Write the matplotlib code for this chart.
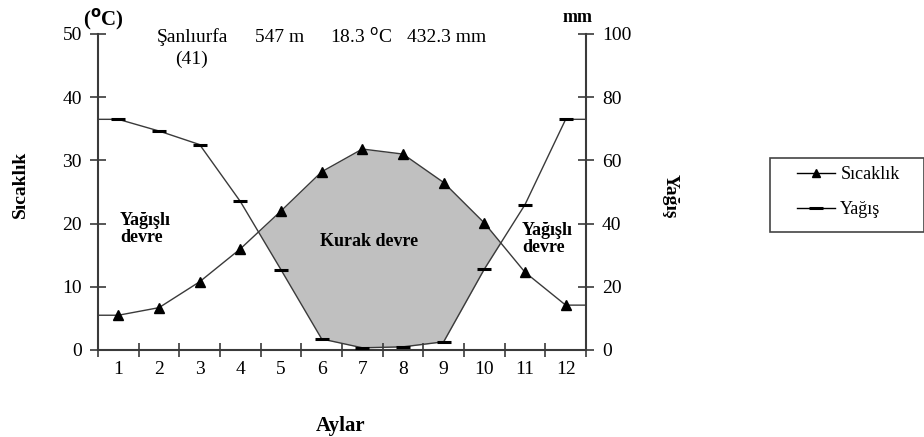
import numpy as np
import matplotlib
matplotlib.use("Agg")
import matplotlib.pyplot as plt
from matplotlib.lines import Line2D
from matplotlib.patches import Rectangle

plt.rcParams["font.family"] = ["Liberation Serif", "DejaVu Serif"]

months = np.arange(1, 13)
month_labels = [str(m) for m in months]
temperature = [5.5, 6.7, 10.8, 16.0, 22.0, 28.2, 31.8, 31.0, 26.5, 20.1, 12.3, 7.1]
precipitation = [73.0, 69.3, 65.0, 47.0, 25.4, 3.5, 0.7, 1.0, 2.6, 25.6, 46.0, 73.0]

W, H = 924, 437
LINE = "#3a3a3a"


def fx(px):
    return px / W


def fy(py):
    return 1 - py / H


fig = plt.figure(figsize=(W / 100, H / 100), dpi=100)
ax = fig.add_axes([fx(98), fy(350), fx(586) - fx(98), fy(34) - fy(350)])
ax2 = ax.twinx()

t = np.array(temperature)
p_half = np.array(precipitation) / 2.0

# dry period: temperature above half of precipitation
ax.fill_between(months, t, p_half, where=t >= p_half, interpolate=True,
                color="#c0c0c0", linewidth=0, zorder=1)

# lines extended flat to both edges
x_ext = np.concatenate([[0.5], months, [12.5]])
t_ext = np.concatenate([[temperature[0]], temperature, [temperature[-1]]])
p_ext = np.concatenate([[precipitation[0]], precipitation, [precipitation[-1]]])

ax.plot(x_ext, t_ext, color=LINE, lw=1.0, zorder=3)
ax.plot(months, temperature, linestyle="none", marker="^", ms=7,
        color="black", zorder=4)
ax2.plot(x_ext, p_ext, color=LINE, lw=1.0, zorder=3)
ax2.plot(months, precipitation, linestyle="none", marker="_", ms=10,
         mew=2.2, color="black", zorder=4)

ax.set_xlim(0.5, 12.5)
ax.set_ylim(0, 50)
ax2.set_ylim(0, 100)

ax.set_yticks([0, 10, 20, 30, 40, 50])
ax2.set_yticks([0, 20, 40, 60, 80, 100])
ax.set_xticks(months)
ax.set_xticklabels(month_labels)
ax.set_xticks(np.arange(0.5, 13, 1), minor=True)

for a in (ax, ax2):
    a.spines["top"].set_visible(False)
    for s in a.spines.values():
        s.set_color(LINE)
        s.set_linewidth(1.5)
ax.spines["right"].set_visible(False)
ax2.spines["left"].set_visible(False)
ax2.spines["bottom"].set_visible(False)

ax.tick_params(axis="y", direction="inout", length=11, width=1.2,
               color=LINE, labelsize=14, pad=6)
ax2.tick_params(axis="y", direction="inout", length=11, width=1.2,
                color=LINE, labelsize=14, pad=6)
ax.tick_params(axis="x", which="major", length=0, labelsize=14, pad=8)
ax.tick_params(axis="x", which="minor", direction="inout", length=10,
               width=1.2, color=LINE)

# axis titles
fig.text(fx(20), fy(184), "Sıcaklık", rotation=90, ha="center", va="center",
         fontsize=14, fontweight="bold")
fig.text(fx(670), fy(196), "Yağış", rotation=270, ha="center", va="center",
         fontsize=14, fontweight="bold")
fig.text(fx(341), fy(426), "Aylar", ha="center", va="center",
         fontsize=15, fontweight="bold")
fig.text(fx(103), fy(20), r"($^{\mathbf{o}}$C)", ha="center", va="center",
         fontsize=15, fontweight="bold")
fig.text(fx(578), fy(17), "mm", ha="center", va="center",
         fontsize=13, fontweight="bold")

# station header
fig.text(fx(157), fy(37), "Şanlıurfa", ha="left", va="center", fontsize=14)
fig.text(fx(255), fy(37), "547 m", ha="left", va="center", fontsize=14)
fig.text(fx(330), fy(37), r"18.3 $^{\mathrm{o}}$C", ha="left", va="center",
         fontsize=14)
fig.text(fx(407), fy(37), "432.3 mm", ha="left", va="center", fontsize=14)
fig.text(fx(191), fy(59), "(41)", ha="center", va="center", fontsize=14)

# period labels
fig.text(fx(120), fy(229), "Yağışlı\ndevre", ha="left", va="center",
         fontsize=13, fontweight="bold", linespacing=0.95)
fig.text(fx(320), fy(242), "Kurak devre", ha="left", va="center",
         fontsize=13, fontweight="bold")
fig.text(fx(522), fy(239), "Yağışlı\ndevre", ha="left", va="center",
         fontsize=13, fontweight="bold", linespacing=0.95)

# legend, with its box drawn separately
handles = [
    Line2D([], [], color="black", lw=1.0, marker="^", ms=6),
    Line2D([], [], color="black", lw=1.0, marker="_", ms=10, mew=2.2),
]
leg = fig.legend(handles, ["Sıcaklık", "Yağış"], loc="upper left",
                 bbox_to_anchor=(fx(797), fy(166)), borderaxespad=0,
                 borderpad=0, frameon=False, fontsize=13,
                 handlelength=2.1, handletextpad=0.3, labelspacing=1.0)
fig.patches.append(Rectangle((fx(770), fy(232)), fx(924) - fx(770),
                             fy(158) - fy(232), transform=fig.transFigure,
                             fill=False, edgecolor="#444444", lw=1.2))

fig.savefig("out.png", dpi=100)
